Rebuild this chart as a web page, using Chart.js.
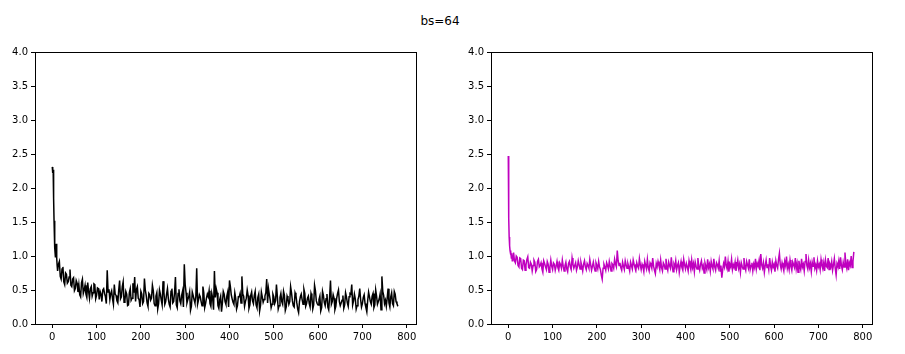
<!DOCTYPE html>
<html>
<head>
<meta charset="utf-8">
<script src="https://cdn.jsdelivr.net/npm/chart.js@4.4.0/dist/chart.umd.min.js"></script>
<style>
  body { margin: 0; background: #fff; width: 905px; height: 354px; position: relative; overflow: hidden; }
  #title { position: absolute; top: 14px; left: 0; width: 880px; text-align: center;
           font: 12px "DejaVu Sans", sans-serif; color: #000; }
  .box { position: absolute; top: 40px; width: 450px; height: 314px; }
</style>
</head>
<body>
<div id="title">bs=64</div>
<div class="box" style="left:0"><canvas id="leftChart"></canvas></div>
<div class="box" style="left:456px"><canvas id="rightChart"></canvas></div>
<script>
// Data Setup
const xTicks = [0, 100, 200, 300, 400, 500, 600, 700, 800];
const yTicks = [0, 0.5, 1.0, 1.5, 2.0, 2.5, 3.0, 3.5, 4.0];

// first 12 steps one by one
const headSteps = [0, 1, 2, 3, 4, 5, 6, 7, 8, 9, 10, 11];
const headBlack = [2.31, 2.22, 2.27, 1.85, 1.52, 1.30, 1.12, 0.99, 1.02, 1.18, 0.97, 0.86];
const headMagenta = [2.47, 1.55, 1.28, 1.15, 1.08, 1.02, 1.06, 0.97, 1.04, 0.93, 1.01, 0.95];

// then every 2nd step from 12 to 780
const tailBlack = [
  0.78,0.88,0.92,0.70,0.66,0.81,0.84,0.62,0.58,0.75,0.73,0.60,0.62,0.69,0.80,0.57,0.55,0.66,0.68,0.49,0.52,0.64,0.60,0.47,
  0.58,0.43,0.40,0.61,0.66,0.45,0.50,0.57,0.44,0.39,0.61,0.48,0.38,0.52,0.55,0.41,0.46,0.59,0.58,0.37,0.42,0.53,0.52,0.36,0.48,
  0.44,0.33,0.50,0.52,0.45,0.40,0.30,0.79,0.47,0.51,0.36,0.45,0.49,0.37,0.29,0.58,0.44,0.42,0.34,0.31,0.50,0.64,0.37,0.40,0.55,
  0.62,0.32,0.35,0.48,0.44,0.27,0.28,0.46,0.52,0.35,0.38,0.60,0.46,0.69,0.33,0.51,0.55,0.38,0.36,0.25,0.48,0.44,0.30,0.33,0.67,
  0.50,0.42,0.31,0.26,0.45,0.43,0.35,0.38,0.57,0.49,0.30,0.27,0.41,0.46,0.22,0.30,0.50,0.44,0.35,0.28,0.63,0.47,0.29,0.33,0.44,
  0.52,0.37,0.29,0.25,0.48,0.52,0.31,0.33,0.46,0.69,0.28,0.24,0.45,0.51,0.34,0.30,0.42,0.48,0.25,0.88,0.58,0.46,0.31,0.36,0.40,
  0.47,0.20,0.26,0.47,0.42,0.36,0.31,0.40,0.82,0.29,0.35,0.43,0.40,0.33,0.27,0.55,0.46,0.24,0.30,0.38,0.44,0.40,0.49,0.30,0.26,
  0.45,0.38,0.21,0.78,0.39,0.52,0.46,0.27,0.23,0.36,0.41,0.18,0.31,0.48,0.44,0.33,0.29,0.41,0.47,0.25,0.64,0.55,0.43,0.37,0.32,
  0.29,0.46,0.38,0.22,0.27,0.40,0.40,0.45,0.31,0.70,0.44,0.41,0.26,0.33,0.38,0.50,0.42,0.23,0.28,0.42,0.47,0.34,0.30,0.42,0.48,
  0.28,0.24,0.39,0.44,0.19,0.27,0.47,0.40,0.32,0.36,0.41,0.46,0.66,0.31,0.52,0.43,0.35,0.24,0.29,0.44,0.40,0.30,0.34,0.58,0.41,
  0.22,0.27,0.39,0.45,0.33,0.29,0.48,0.42,0.20,0.25,0.41,0.37,0.29,0.33,0.55,0.46,0.34,0.27,0.25,0.46,0.42,0.31,0.22,0.17,0.33,
  0.40,0.44,0.36,0.29,0.51,0.45,0.26,0.30,0.38,0.41,0.30,0.25,0.45,0.40,0.22,0.28,0.57,0.49,0.34,0.30,0.28,0.36,0.41,0.19,0.24,
  0.48,0.42,0.32,0.27,0.37,0.44,0.25,0.21,0.40,0.64,0.29,0.33,0.43,0.38,0.21,0.26,0.38,0.45,0.50,0.33,0.27,0.31,0.35,0.42,0.23,
  0.28,0.46,0.40,0.31,0.26,0.40,0.45,0.44,0.58,0.28,0.34,0.44,0.37,0.22,0.27,0.36,0.41,0.52,0.36,0.25,0.30,0.39,0.43,0.30,0.24,
  0.18,0.35,0.47,0.40,0.33,0.29,0.41,0.45,0.24,0.28,0.50,0.41,0.29,0.33,0.37,0.44,0.21,0.70,0.48,0.42,0.30,0.35,0.26,0.38,0.52,
  0.31,0.25,0.40,0.46,0.30,0.27,0.48,0.44,0.33,0.30,0.26
];

const tailMagenta = [
  1.05,0.93,0.90,1.00,0.98,0.86,0.84,0.97,0.96,0.82,0.80,0.94,0.93,0.79,0.87,0.95,0.99,0.83,0.82,0.91,0.88,0.78,0.86,0.94,
  0.91,0.77,0.80,0.92,0.95,0.84,0.86,0.90,0.81,0.76,0.93,0.89,0.84,0.80,0.92,0.88,0.76,0.83,0.94,0.85,0.80,0.90,0.88,0.79,0.85,
  0.92,0.83,0.79,0.90,0.87,0.82,0.94,0.85,0.78,0.86,0.91,0.81,0.77,0.89,0.92,0.84,0.80,0.97,0.88,0.82,0.86,0.90,0.79,0.84,0.93,
  0.87,0.81,0.91,0.85,0.78,0.88,0.93,0.84,0.80,0.89,0.86,0.82,0.95,0.87,0.79,0.85,0.91,0.83,0.78,0.90,0.86,0.81,0.92,0.84,0.80,
  0.72,0.66,0.82,0.88,0.84,0.79,0.90,0.86,0.81,0.92,0.85,0.78,0.89,0.87,0.82,0.95,0.88,0.84,1.08,0.93,0.86,0.90,0.83,0.79,0.91,
  0.85,0.80,0.93,0.87,0.82,0.89,0.84,0.78,0.91,0.86,0.81,0.94,0.88,0.83,0.79,0.90,0.85,0.82,0.96,0.87,0.80,0.88,0.84,0.77,0.92,
  0.86,0.81,0.95,0.83,0.78,0.90,0.87,0.82,0.97,0.85,0.79,0.74,0.89,0.84,0.92,0.86,0.80,0.94,0.83,0.78,0.90,0.87,0.81,0.96,0.84,
  0.79,0.91,0.86,0.82,0.98,0.85,0.77,0.88,0.84,0.93,0.80,0.86,0.90,0.76,0.85,0.92,0.83,0.79,0.95,0.87,0.81,0.89,0.84,0.78,0.93,
  0.86,0.80,0.94,0.83,0.89,0.77,0.91,0.85,0.81,0.97,0.84,0.79,0.88,0.93,0.82,0.86,0.75,0.90,0.85,0.80,0.95,0.83,0.88,0.78,0.92,
  0.85,0.81,0.96,0.84,0.79,0.90,0.87,0.82,0.93,0.78,0.86,0.68,0.80,0.89,0.84,0.99,0.86,0.81,0.92,0.77,0.88,0.84,0.95,0.80,0.87,
  0.83,0.91,0.78,0.86,0.94,0.82,0.88,0.76,0.90,0.85,0.81,0.97,0.84,0.79,0.92,0.87,0.82,0.95,0.80,0.86,0.90,0.78,0.88,0.83,0.96,
  0.81,0.89,0.85,0.93,0.79,1.03,0.87,0.82,0.90,0.76,0.86,0.94,0.83,0.88,0.80,0.97,0.85,0.79,0.91,0.84,0.88,0.77,0.93,0.86,0.82,
  0.95,1.04,0.87,0.81,0.90,0.84,0.78,0.92,0.86,0.99,0.82,0.88,0.80,0.94,0.85,0.79,0.91,0.87,0.83,0.97,0.81,0.89,0.76,0.93,0.85,
  0.80,0.96,0.84,0.88,0.78,0.92,1.03,0.86,0.81,0.94,0.83,0.89,0.77,0.91,0.85,0.98,0.82,0.87,0.79,0.93,0.84,0.88,0.80,0.95,0.86,
  0.81,0.90,0.78,0.94,0.85,0.83,0.97,0.80,0.88,0.84,0.92,0.79,0.87,0.96,0.82,0.72,0.89,0.85,0.93,0.81,0.98,0.86,0.80,0.91,0.84,
  1.05,0.88,0.82,0.95,0.79,0.90,0.86,1.00,0.83,0.92,1.06
];

function toPoints(head, tail) {
  const pts = head.map((v, i) => ({ x: headSteps[i], y: v }));
  tail.forEach((v, i) => pts.push({ x: 12 + 2 * i, y: v }));
  return pts;
}

// draws the full box round the plot area, like matplotlib spines
const frame = {
  id: 'frame',
  afterDraw(chart) {
    const a = chart.chartArea, ctx = chart.ctx;
    ctx.save();
    ctx.strokeStyle = '#000';
    ctx.lineWidth = 1;
    ctx.strokeRect(Math.round(a.left) + 0.5, Math.round(a.top) + 0.5,
                   Math.round(a.right - a.left), Math.round(a.bottom - a.top));
    ctx.restore();
  }
};

const tickFont = { family: 'DejaVu Sans', size: 10 };

function makeChart(id, points, color) {
  return new Chart(document.getElementById(id).getContext('2d'), {
    type: 'line',
    data: {
      datasets: [{
        data: points,
        borderColor: color,
        borderWidth: 1.5,
        pointRadius: 0,
        tension: 0,
        fill: false
      }]
    },
    options: {
      responsive: false,
      animation: false,
      layout: { padding: { top: 12, right: 34, left: 0, bottom: 0 } },
      plugins: { legend: { display: false }, tooltip: { enabled: false } },
      scales: {
        x: {
          type: 'linear', min: -39, max: 821,
          afterBuildTicks: s => { s.ticks = xTicks.map(v => ({ value: v })); },
          afterFit: s => { s.height = 30; },
          grid: { drawOnChartArea: false, drawTicks: true, tickLength: 4, color: '#000' },
          border: { display: true, color: '#000' },
          ticks: { font: tickFont, color: '#000', padding: 3, maxRotation: 0 }
        },
        y: {
          min: 0, max: 4,
          afterBuildTicks: s => { s.ticks = yTicks.map(v => ({ value: v })); },
          afterFit: s => { s.width = 35; },
          grid: { drawOnChartArea: false, drawTicks: true, tickLength: 4, color: '#000' },
          border: { display: true, color: '#000' },
          ticks: { font: tickFont, color: '#000', padding: 3, callback: v => v.toFixed(1) }
        }
      }
    },
    plugins: [frame]
  });
}

document.querySelectorAll('canvas').forEach(c => { c.width = 450; c.height = 314; });
const leftChart = makeChart('leftChart', toPoints(headBlack, tailBlack), '#000000');
const rightChart = makeChart('rightChart', toPoints(headMagenta, tailMagenta), '#bf00bf');
</script>
</body>
</html>
